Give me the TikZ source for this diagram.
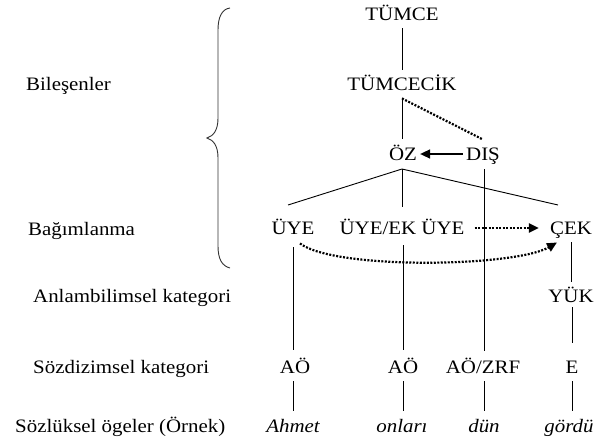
\documentclass[tikz,border=0pt]{standalone}
\usepackage{fontspec}
\setmainfont{Liberation Serif}[FakeStretch=1.1]
\usetikzlibrary{arrows.meta,calc}
\begin{document}
\begin{tikzpicture}[x=1pt,y=-1pt,
  tx/.style={font=\fontsize{19}{22}\selectfont, text height=12.5pt, text depth=0pt,
             inner xsep=3pt, inner ysep=8pt},
  lbl/.style={tx, anchor=west},
  ln/.style={line width=0.9pt},
  dotln/.style={line width=2.2pt, dash pattern=on 2pt off 1.5pt},
  tip/.style={-{Triangle[length=10pt,width=9pt]}}]
\useasboundingbox (0,0) rectangle (597,444);

% left labels
\node[lbl] (bil) at (23,84) {Bileşenler};
\node[lbl] (bag) at (25,229) {Bağımlanma};
\node[lbl] (anl) at (30,296) {Anlambilimsel kategori};
\node[lbl] (soz) at (30,367) {Sözdizimsel kategori};
\node[lbl] (szl) at (12,426) {Sözlüksel ögeler (Örnek)};

% brace
\draw[ln, draw=black!80] (230,8) .. controls (222,9) and (218,17) .. (218,30)
  -- (218,118) .. controls (218,131) and (213,136) .. (207,138)
  .. controls (213,140) and (218,145) .. (218,158)
  -- (218,246) .. controls (218,259) and (222,266) .. (230,268);

% tree nodes
\node[tx] (tumce) at (402,14) {TÜMCE};
\node[tx] (tcik) at (402,84) {TÜMCECİK};
\node[tx] (oz) at (403,154) {ÖZ};
\node[tx] (dis) at (483,154) {DIŞ};
\node[tx] (uye) at (293,228) {ÜYE};
\node[tx] (uyeek) at (402,228) {ÜYE/EK ÜYE};
\node[tx] (cek) at (571,228) {ÇEK};
\node[tx] (yuk) at (571,296) {YÜK};
\node[tx] (ao1) at (295,367) {AÖ};
\node[tx] (ao2) at (403,367) {AÖ};
\node[tx] (aozrf) at (483,367) {AÖ/ZRF};
\node[tx] (e) at (572,367) {E};
\node[tx] (ahmet) at (293,426) {\itshape Ahmet};
\node[tx] (onlari) at (402,426) {\itshape onları};
\node[tx] (dun) at (484,426) {\itshape dün};
\node[tx] (gordu) at (569,426) {\itshape gördü};

% coordinates for free ends
\coordinate (apex) at (402,169);
\coordinate (lend) at (288,205);
\coordinate (mend) at (402,207);
\coordinate (rend) at (558,205);

% connectors
\draw[ln] (tumce.south) -- (tcik.north);
\draw[ln] (tcik.south) -- (402,139);
\draw[dotln] (tcik.south) -- (dis.north);
\draw[line width=1.6pt, tip] (dis.west) -- (oz.east);
\draw[ln] (lend) -- (apex) -- (rend);
\draw[ln] (apex) -- (mend);
\draw[ln] (484,169) -- (484,351);
\draw[ln] (293,247) -- (293,350);
\draw[ln] (403,245) -- (403,350);
\draw[ln] (cek.south) -- (yuk.north);
\draw[ln] (572,307) -- (572,343);
\draw[dotln, tip, shorten <=7pt, shorten >=8pt] (uyeek.east) -- (cek.west);
\draw[dotln, tip] ($(uye.south)+(7,1)$) .. controls (335,270) and (515,267) .. ($(cek.south)+(-14,0)$);
\foreach \a/\b/\x in {ao1/ahmet/293, ao2/onlari/403, aozrf/dun/484, e/gordu/572}
  \draw[ln] (\x,381) -- (\x,411);
\end{tikzpicture}
\end{document}
